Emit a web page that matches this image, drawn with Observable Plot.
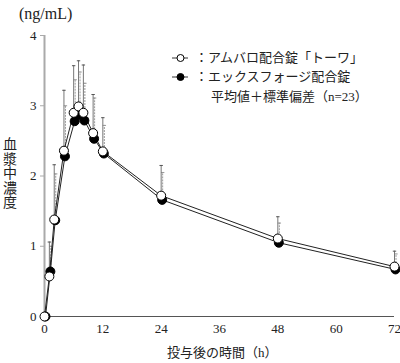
<!DOCTYPE html>
<html>
<head>
<meta charset="utf-8">
<script src="https://cdn.jsdelivr.net/npm/d3@7"></script>
<script src="https://cdn.jsdelivr.net/npm/@observablehq/plot@0.6"></script>
<style>
  html, body { margin: 0; padding: 0; background: #fff; }
  #wrap { position: relative; width: 400px; height: 363px; font-family: "Liberation Serif", "Noto Sans CJK JP", serif; color: #222; }
  .abs { position: absolute; white-space: nowrap; }
  .leg { font-size: 13px; line-height: 16px; }
  .vchar { display: block; width: 14px; height: 14.5px; line-height: 14.5px; text-align: center; }
</style>
</head>
<body>
<div id="wrap"></div>
<script>
// ---- data ----
const times = [0, 1, 2, 4, 6, 7, 8, 10, 12, 24, 48, 72];
const amuMean = [0, 0.57, 1.38, 2.36, 2.90, 2.99, 2.90, 2.61, 2.35, 1.72, 1.11, 0.71];
const amuSD   = [0, 0.49, 0.78, 0.86, 0.67, 0.65, 0.68, 0.55, 0.48, 0.43, 0.31, 0.22];
const exMean  = [0, 0.64, 1.37, 2.28, 2.78, 2.87, 2.79, 2.53, 2.32, 1.66, 1.05, 0.67];
const exSD    = [0, 0.36, 0.66, 0.72, 0.59, 0.61, 0.53, 0.58, 0.40, 0.39, 0.28, 0.22];
const xTicks = [0, 12, 24, 36, 48, 60, 72];
const yTicks = [0, 1, 2, 3, 4];
const seriesNames = ["アムバロ配合錠「トーワ」", "エックスフォージ配合錠"];
const noteText = "平均値＋標準偏差（n=23）";
const yUnit = "(ng/mL)";
const yTitle = "血漿中濃度";
const xTitle = "投与後の時間（h）";

const amu = times.map((t, i) => ({t, m: amuMean[i], sd: amuSD[i]}));
const ex = times.map((t, i) => ({t, m: exMean[i], sd: exSD[i]}));
const amuBars = amu.filter(d => d.sd > 0);
const exBars = ex.filter(d => d.sd > 0);
const capW = 0.35;

const plot = Plot.plot({
  width: 400,
  height: 363,
  marginLeft: 44,
  marginRight: 6,
  marginTop: 35,
  marginBottom: 47,
  style: {fontFamily: '"Liberation Serif", "Noto Sans CJK JP", serif', fontSize: "13px", color: "#222", background: "#fff"},
  x: {domain: [0, 72], ticks: xTicks, label: null},
  y: {domain: [0, 4], ticks: yTicks, label: null},
  marks: [
    Plot.axisY({ticks: yTicks, tickSize: 4, tickPadding: 4, stroke: "#aaa", fontSize: 13, tickFormat: d => d}),
    Plot.axisX({ticks: xTicks, tickSize: 0, tickPadding: 7, fontSize: 13, tickFormat: d => d}),
    Plot.ruleY([0], {stroke: "#555", strokeWidth: 1}),
    Plot.ruleX([0], {stroke: "#aaa", strokeWidth: 2}),
    // error bars: Ex (dotted)
    Plot.ruleX(exBars, {x: "t", y1: "m", y2: d => d.m + d.sd, stroke: "#999", strokeWidth: 1, strokeDasharray: "2,1", dx: 1.5}),
    Plot.link(exBars, {x1: d => d.t - capW, x2: d => d.t + capW, y1: d => d.m + d.sd, y2: d => d.m + d.sd, stroke: "#999", strokeWidth: 1, dx: 1.5}),
    // error bars: Amu (solid)
    Plot.ruleX(amuBars, {x: "t", y1: "m", y2: d => d.m + d.sd, stroke: "#777", strokeWidth: 1}),
    Plot.link(amuBars, {x1: d => d.t - capW, x2: d => d.t + capW, y1: d => d.m + d.sd, y2: d => d.m + d.sd, stroke: "#555", strokeWidth: 1}),
    // lines
    Plot.line(ex, {x: "t", y: "m", stroke: "#222", strokeWidth: 1, dx: 1}),
    Plot.line(amu, {x: "t", y: "m", stroke: "#222", strokeWidth: 1}),
    // points
    Plot.dot(ex, {x: "t", y: "m", r: 4.5, fill: "#000", stroke: "#000", strokeWidth: 1, dx: 1}),
    Plot.dot(amu, {x: "t", y: "m", r: 4.5, fill: "#fff", stroke: "#000", strokeWidth: 1})
  ]
});

const wrap = document.getElementById("wrap");
wrap.appendChild(plot);

function addText(txt, css, cls) {
  const d = document.createElement("div");
  d.className = "abs" + (cls ? " " + cls : "");
  d.textContent = txt;
  Object.assign(d.style, css);
  wrap.appendChild(d);
  return d;
}
addText(yUnit, {left: "19px", top: "5px", fontSize: "16px"});
// vertical y title, one character per line
const yt = document.createElement("div");
yt.className = "abs";
Object.assign(yt.style, {left: "3px", top: "138px", fontSize: "14px"});
for (const ch of yTitle) {
  const s = document.createElement("span");
  s.className = "vchar";
  s.textContent = ch;
  yt.appendChild(s);
}
wrap.appendChild(yt);
addText(xTitle, {left: "167px", top: "342px", fontSize: "13px"});

// legend
function legendRow(y, filled, label) {
  const s = document.createElementNS("http://www.w3.org/2000/svg", "svg");
  s.setAttribute("width", 18); s.setAttribute("height", 12);
  s.style.position = "absolute"; s.style.left = "172px"; s.style.top = (y - 6) + "px";
  s.innerHTML = `<line x1="0" x2="16" y1="6" y2="6" stroke="#333" stroke-width="1"/><circle cx="8.5" cy="6" r="3.5" fill="${filled ? "#000" : "#fff"}" stroke="#000" stroke-width="1"/>`;
  wrap.appendChild(s);
  addText("：" + label, {left: "195px", top: (y - 8) + "px"}, "leg");
}
legendRow(58, false, seriesNames[0]);
legendRow(77, true, seriesNames[1]);
addText(noteText, {left: "211px", top: "89px"}, "leg");
</script>
</body>
</html>
